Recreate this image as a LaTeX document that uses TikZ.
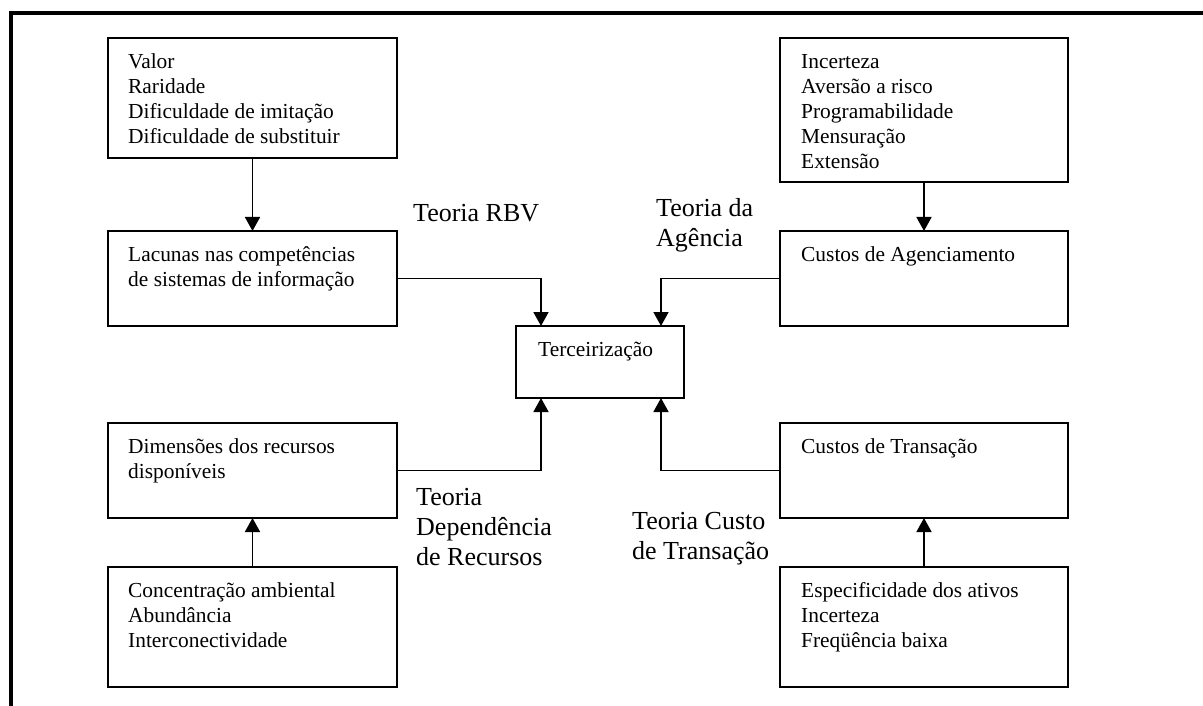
\documentclass[tikz,border=0pt]{standalone}
\usepackage{fontspec}
\setmainfont{Liberation Serif}
\usetikzlibrary{arrows.meta}

\tikzset{
  box/.style={draw, line width=1.7pt, anchor=north west, inner sep=0pt, outer sep=0pt},
  boxtext/.style={anchor=base west, inner sep=0pt, font=\fontsize{21.4}{25}\selectfont},
  theory/.style={anchor=base west, inner sep=0pt, font=\fontsize{26}{30}\selectfont},
  link/.style={line width=1.7pt, -{Triangle[width=15pt,length=14pt]}},
  frame/.style={line width=3.6pt, line join=miter}
}

\newcommand{\lines}[1]{\begin{tabular}[t]{@{}l@{}}#1\end{tabular}}

\begin{document}
\begin{tikzpicture}[x=1pt, y=-1pt]
  \useasboundingbox (0,0) rectangle (1203,706);

  % open frame: top and left edges only
  \draw[frame] (10.8,706) -- (10.8,13) -- (1203,13);

  % boxes
  \node[box, minimum width=289pt, minimum height=120pt] (valor)   at (108,38)  {};
  \node[box, minimum width=289pt, minimum height=95pt]  (lacunas) at (108,231) {};
  \node[box, minimum width=289pt, minimum height=95pt]  (dimens)  at (108,423) {};
  \node[box, minimum width=289pt, minimum height=120pt] (concent) at (108,567) {};

  \node[box, minimum width=288pt, minimum height=144pt] (incert)  at (780,38)  {};
  \node[box, minimum width=288pt, minimum height=95pt]  (agenc)   at (780,231) {};
  \node[box, minimum width=288pt, minimum height=95pt]  (transac) at (780,423) {};
  \node[box, minimum width=288pt, minimum height=120pt] (especif) at (780,567) {};

  \node[box, minimum width=168pt, minimum height=72pt]  (terc)    at (516,326) {};

  % box contents
  \node[boxtext] (valor-t)   at ([xshift=20pt,yshift=-30.5pt]valor.north west)
    {\lines{Valor\\Raridade\\Dificuldade de imitação\\Dificuldade de substituir}};
  \node[boxtext] (lacunas-t) at ([xshift=20pt,yshift=-30.5pt]lacunas.north west)
    {\lines{Lacunas nas competências\\de sistemas de informação}};
  \node[boxtext] (dimens-t)  at ([xshift=20pt,yshift=-30.5pt]dimens.north west)
    {\lines{Dimensões dos recursos\\disponíveis}};
  \node[boxtext] (concent-t) at ([xshift=20pt,yshift=-30.5pt]concent.north west)
    {\lines{Concentração ambiental\\Abundância\\Interconectividade}};
  \node[boxtext] (incert-t)  at ([xshift=21pt,yshift=-30.5pt]incert.north west)
    {\lines{Incerteza\\Aversão a risco\\Programabilidade\\Mensuração\\Extensão}};
  \node[boxtext] (agenc-t)   at ([xshift=21pt,yshift=-30.5pt]agenc.north west)
    {Custos de Agenciamento};
  \node[boxtext] (transac-t) at ([xshift=21pt,yshift=-30.5pt]transac.north west)
    {Custos de Transação};
  \node[boxtext] (especif-t) at ([xshift=21pt,yshift=-30.5pt]especif.north west)
    {\lines{Especificidade dos ativos\\Incerteza\\Freqüência baixa}};
  \node[boxtext] (terc-t)    at ([xshift=22pt,yshift=-30.5pt]terc.north west)
    {Terceirização};

  % theory labels
  \node[theory] (rbv)    at (413,222) {Teoria RBV};
  \node[theory] (agency) at (656,216) {\lines{Teoria da\\Agência}};
  \node[theory] (resdep) at (416,505) {\lines{Teoria\\Dependência\\de Recursos}};
  \node[theory] (trcost) at (632,529.5) {\lines{Teoria Custo\\de Transação}};

  % connectors
  \coordinate (tercL) at ([xshift=-59pt]terc.north);
  \coordinate (tercR) at ([xshift=61pt]terc.north);
  \coordinate (tercLb) at ([xshift=-59pt]terc.south);
  \coordinate (tercRb) at ([xshift=61pt]terc.south);

  \draw[link] (valor.south) -- (lacunas.north);
  \draw[link] (incert.south) -- (agenc.north);
  \draw[link] (concent.north) -- (dimens.south);
  \draw[link] (especif.north) -- (transac.south);

  \draw[link] (lacunas.east) -| (tercL);
  \draw[link] (agenc.west) -| (tercR);
  \draw[link] (dimens.east) -| (tercLb);
  \draw[link] (transac.west) -| (tercRb);
\end{tikzpicture}
\end{document}
